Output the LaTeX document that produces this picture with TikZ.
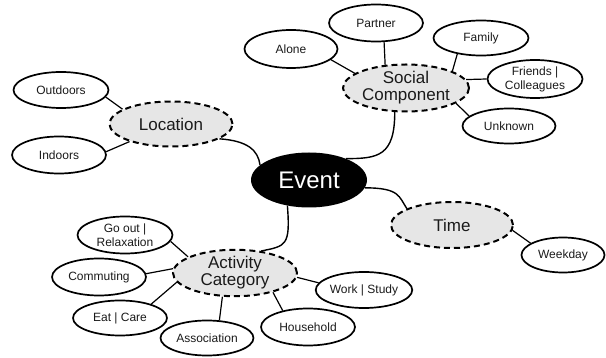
\documentclass[tikz,border=0pt]{standalone}
\usepackage{fontspec}
\setmainfont{Liberation Sans}
\usetikzlibrary{shapes.geometric}
\definecolor{hubfill}{HTML}{E6E6E6}
\definecolor{txt}{HTML}{1A1A1A}
\tikzset{
  leaf/.style={ellipse, draw, line width=1.7pt, inner sep=0pt, minimum width=94pt, minimum height=36pt, font=\fontsize{12}{14}\selectfont, text=txt, align=center},
  hub/.style={ellipse, draw, fill=hubfill, line width=2pt, dash pattern=on 6pt off 4pt, inner sep=0pt, minimum width=124pt, minimum height=46pt, font=\fontsize{17}{17}\selectfont, text=txt, align=center},
  core/.style={ellipse, fill=black, inner sep=0pt, minimum width=116pt, minimum height=55pt, font=\fontsize{24}{24}\selectfont, text=white},
  twig/.style={line width=1.2pt},
  branch/.style={line width=1.4pt}
}
\begin{document}
\begin{tikzpicture}[x=1pt,y=-1pt]
\useasboundingbox (0,0) rectangle (606,358);
% core
\node[core] (ev) at (309,180) {Event};
% hubs
\node[hub, minimum width=123pt, minimum height=45pt] (loc) at (171,124) {Location};
\node[hub, minimum width=126pt, minimum height=47pt] (soc) at (406,88) {Social\\Component};
\node[hub, minimum width=122pt] (time) at (452,225) {Time};
\node[hub] (act) at (235,273) {Activity\\Category};
% leaves
\node[leaf, minimum width=95pt] (out) at (61,90) {Outdoors};
\node[leaf, minimum height=37pt] (ind) at (59,155) {Indoors};
\node[leaf, minimum width=93pt, minimum height=38pt] (alo) at (291,49) {Alone};
\node[leaf, minimum height=37pt] (par) at (376,23) {Partner};
\node[leaf, minimum width=95pt, minimum height=35pt] (fam) at (481,38) {Family};
\node[leaf, minimum width=95pt, minimum height=38pt] (fri) at (535,79) {Friends |\\Colleagues};
\node[leaf, minimum width=93pt, minimum height=35pt] (unk) at (509,126) {Unknown};
\node[leaf, minimum width=83pt, minimum height=35pt] (wee) at (563,255) {Weekday};
\node[leaf] (wor) at (364,290) {Work | Study};
\node[leaf, minimum width=95pt, minimum height=37pt] (goo) at (125,235) {Go out |\\Relaxation};
\node[leaf, minimum height=37pt] (com) at (99,277) {Commuting};
\node[leaf, minimum height=35pt] (eat) at (120,318) {Eat | Care};
\node[leaf, minimum width=93pt, minimum height=35pt] (ass) at (207,338) {Association};
\node[leaf, minimum height=37pt] (hou) at (308,327) {Household};
% branches
\draw[branch] (loc.-17) .. controls +(28,2) and +(-2,-15) .. (ev.163);
\draw[branch] (soc.-115) .. controls +(0,44) and +(32,0) .. (ev.30);
\draw[branch] (ev.-8) .. controls +(35,0) and +(-8,-12) .. (time.160);
\draw[branch] (ev.-130) .. controls +(3,40) and +(25,-5) .. (act.40);
% twigs
\draw[twig] (out.-9) -- (loc.163);
\draw[twig] (ind.4) -- (loc.203);
\draw[twig] (alo.-15) -- (soc.164);
\draw[twig] (par.-67) -- (soc.132);
\draw[twig] (fam.214) -- (soc.20);
\draw[twig] (fri.180) -- (soc.8);
\draw[twig] (unk.166) -- (soc.-17);
\draw[twig] (wee.160) -- (time.-5);
\draw[twig] (wor.171) -- (act.-4);
\draw[twig] (goo.-8) -- (act.161);
\draw[twig] (com.4) -- (act.176);
\draw[twig] (eat.24) -- (act.189);
\draw[twig] (ass.55) -- (act.242);
\draw[twig] (hou.147) -- (act.-27);
\end{tikzpicture}
\end{document}
